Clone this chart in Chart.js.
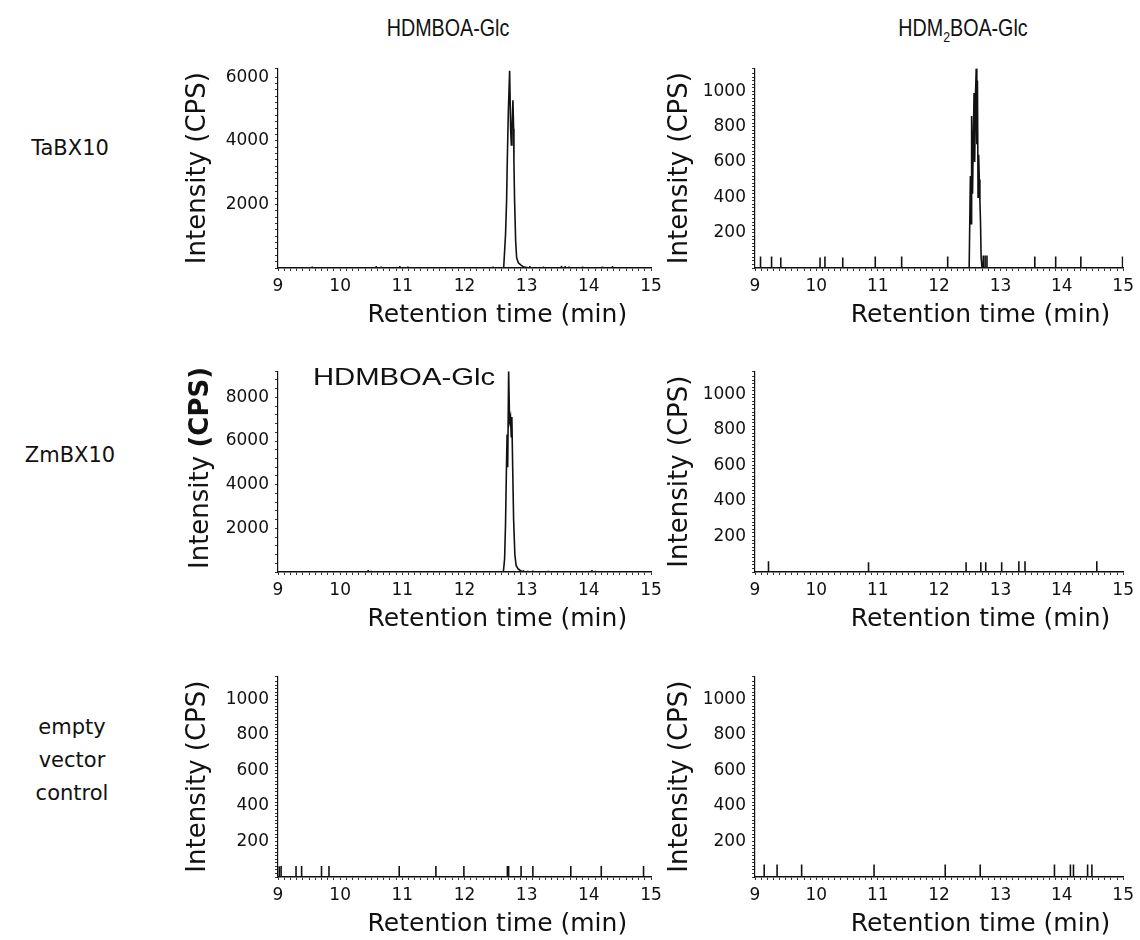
<!DOCTYPE html>
<html>
<head>
<meta charset="utf-8">
<script src="https://cdn.jsdelivr.net/npm/chart.js@4.4.1/dist/chart.umd.min.js"></script>
<style>
  body { margin: 0; background: #fff; width: 1140px; height: 940px; position: relative; overflow: hidden; font-family: "DejaVu Sans", sans-serif; color: #111; }
  .box { position: absolute; }
  .lbl { position: absolute; white-space: nowrap; transform: translate(-50%, -50%); }
  .row { font-size: 21px; text-align: center; line-height: 33px; }
  .col { font-family: "Liberation Sans", Arial, sans-serif; font-size: 24px; transform: translate(-50%, -50%) scaleX(0.82); }
</style>
</head>
<body>
<div class="lbl col" style="left:448px;top:28px">HDMBOA-Glc</div>
<div class="lbl col" style="left:963px;top:28px">HDM<span style="font-size:15px;position:relative;top:6px">2</span>BOA-Glc</div>

<div class="lbl row" style="left:70px;top:148px">TaBX10</div>
<div class="lbl row" style="left:70px;top:455px">ZmBX10</div>
<div class="lbl row" style="left:72px;top:760px">empty<br>vector<br>control</div>

<div class="box" style="left:180px;top:52px;width:491px;height:280px"><canvas id="taHdmboa"></canvas></div>
<div class="box" style="left:657px;top:52px;width:482px;height:280px"><canvas id="taHdm2boa"></canvas></div>
<div class="box" style="left:180px;top:355px;width:491px;height:281px"><canvas id="zmHdmboa"></canvas></div>
<div class="box" style="left:657px;top:355px;width:482px;height:281px"><canvas id="zmHdm2boa"></canvas></div>
<div class="box" style="left:180px;top:660px;width:491px;height:281px"><canvas id="evHdmboa"></canvas></div>
<div class="box" style="left:657px;top:660px;width:482px;height:281px"><canvas id="evHdm2boa"></canvas></div>

<div class="lbl" style="left:199px;top:468px;font-size:26px;transform:translate(-50%,-50%) rotate(-90deg)">Intensity <b>(CPS)</b></div>
<div class="lbl" style="left:404px;top:377px;font-family:'Liberation Sans',Arial,sans-serif;font-size:24px;transform:translate(-50%,-50%) scaleX(1.22)">HDMBOA-Glc</div>

<script>
// axis ranges and tick labels
const timeMin = 9;
const timeMax = 15;
const timeLabels = [9, 10, 11, 12, 13, 14, 15];
const bigLabels6k = [2000, 4000, 6000];
const bigLabels8k = [2000, 4000, 6000, 8000];
const smallLabels = [200, 400, 600, 800, 1000];

// TaBX10 - HDMBOA-Glc
const taHdmboaPeakTimes = [12.63, 12.66, 12.677, 12.688, 12.705, 12.726, 12.742, 12.753, 12.763, 12.779, 12.79, 12.795, 12.806, 12.823, 12.839, 12.866, 12.903, 12.956];
const taHdmboaPeakValues = [0, 1050, 2100, 3340, 4900, 6200, 4380, 3870, 4380, 5270, 4380, 3340, 2100, 840, 320, 165, 100, 30];
const taHdmboaNoiseTimes = [9.55, 10.58, 10.66, 10.96, 11.09, 12.46, 13.05, 13.27, 13.56, 13.62, 13.68, 13.9, 14.22, 14.38];
const taHdmboaNoiseValues = [50, 60, 50, 60, 50, 50, 60, 50, 70, 60, 50, 50, 50, 60];

// TaBX10 - HDM2BOA-Glc
const taHdm2boaPeakTimes = [12.49, 12.51, 12.52, 12.53, 12.545, 12.56, 12.57, 12.58, 12.595, 12.605, 12.615, 12.625, 12.635, 12.645, 12.655, 12.665, 12.675, 12.685, 12.7];
const taHdm2boaPeakValues = [0, 520, 250, 860, 420, 780, 990, 600, 1000, 1128, 700, 1060, 400, 640, 500, 380, 260, 60, 0];
const taHdm2boaSpikeTimes = [9.09, 9.27, 9.42, 10.06, 10.14, 10.43, 10.96, 11.39, 12.14, 12.72, 12.75, 12.78, 13.56, 13.9, 14.31, 14.99];
const taHdm2boaSpikeValues = [65, 65, 60, 60, 65, 60, 65, 65, 65, 70, 70, 70, 65, 65, 65, 65];

// ZmBX10 - HDMBOA-Glc
const zmHdmboaPeakTimes = [12.625, 12.645, 12.66, 12.675, 12.685, 12.695, 12.71, 12.725, 12.74, 12.752, 12.762, 12.775, 12.79, 12.81, 12.83, 12.86, 12.9];
const zmHdmboaPeakValues = [0, 600, 2200, 4800, 6300, 4800, 9200, 6900, 7100, 6200, 7100, 4800, 2400, 800, 300, 150, 60];
const zmHdmboaNoiseTimes = [9.25, 9.4, 10.45, 10.5, 12.95, 13.02, 13.1, 13.2, 13.35, 13.8, 14.05, 14.1];
const zmHdmboaNoiseValues = [40, 40, 90, 60, 80, 60, 70, 50, 60, 50, 90, 60];

// ZmBX10 - HDM2BOA-Glc
const zmHdm2boaSpikeTimes = [9.22, 10.85, 12.44, 12.68, 12.76, 13.02, 13.3, 13.4, 14.57];
const zmHdm2boaSpikeValues = [60, 55, 55, 55, 55, 55, 60, 60, 60];

// empty vector control
const evHdmboaSpikeTimes = [9.02, 9.05, 9.29, 9.38, 9.7, 9.82, 10.95, 11.54, 11.99, 12.69, 12.71, 12.91, 13.1, 13.71, 14.2, 14.88];
const evHdmboaSpikeValues = [60, 62, 62, 62, 62, 62, 62, 62, 62, 62, 62, 62, 62, 62, 62, 62];
const evHdm2boaSpikeTimes = [9.15, 9.36, 9.76, 10.94, 12.1, 12.67, 13.88, 14.14, 14.19, 14.42, 14.49];
const evHdm2boaSpikeValues = [70, 70, 70, 70, 70, 70, 70, 70, 70, 70, 70];

Chart.defaults.font.family = "'DejaVu Sans', sans-serif";
Chart.defaults.color = "#111";

// baseline + single-scan spikes + peak profile, as {x, y}
function buildTrace(peakTimes, peakValues, spikeTimes, spikeValues) {
  let pts = [{ x: timeMin, y: 0 }];
  spikeTimes.forEach(function (t, i) {
    pts.push({ x: t, y: 0 }, { x: t, y: spikeValues[i] }, { x: t, y: 0 });
  });
  peakTimes.forEach(function (t, i) {
    pts.push({ x: t, y: peakValues[i] });
  });
  pts.push({ x: timeMax, y: 0 });
  pts.sort(function (a, b) {
    return a.x - b.x;
  });
  return pts;
}

function makeChart(id, points, yMax, yStep, yLabels, opts) {
  const config = {
    type: "line",
    data: {
      datasets: [
        {
          data: points,
          borderColor: "#111",
          borderWidth: 1.6,
          pointRadius: 0,
          tension: 0,
        },
      ],
    },
    options: {
      responsive: true,
      maintainAspectRatio: false,
      animation: false,
      layout: { padding: { top: 14, right: opts.right, left: 0, bottom: 0 } },
      plugins: { legend: { display: false }, tooltip: { enabled: false } },
      scales: {
        x: {
          type: "linear",
          min: timeMin,
          max: timeMax,
          afterFit: function (s) {
            s.height = 64;
          },
          border: { color: "#111", width: 1.6 },
          grid: { drawOnChartArea: false, tickLength: 3, color: "#333" },
          ticks: {
            stepSize: 0.1,
            autoSkip: false,
            maxRotation: 0,
            padding: 5,
            font: { size: 17 },
            callback: function (v) {
              let r = Math.round(v * 10) / 10;
              return timeLabels.includes(r) ? String(r) : "";
            },
          },
          title: {
            display: true,
            text: "Retention time (min)" + opts.tail,
            align: "end",
            font: { size: 25 },
            padding: { top: 0, bottom: 2 },
          },
        },
        y: {
          min: 0,
          max: yMax,
          afterFit: function (s) {
            s.width = 98;
          },
          border: { color: "#111", width: 1.2 },
          grid: { drawOnChartArea: false, tickLength: 3, color: "#333" },
          ticks: {
            stepSize: yStep,
            autoSkip: false,
            padding: 6,
            font: { size: 17 },
            callback: function (v) {
              return yLabels.includes(v) ? String(v) : "";
            },
          },
          title: {
            display: opts.yTitle,
            text: "Intensity (CPS)",
            font: { size: 26 },
            padding: { top: opts.titlePad, bottom: 0 },
          },
        },
      },
    },
  };
  return new Chart(document.getElementById(id), config);
}

const leftCol = { right: 20, tail: "   ", titlePad: 3, yTitle: true };
const rightCol = { right: 12, tail: " \u2009", titlePad: 8, yTitle: true };

makeChart("taHdmboa", buildTrace(taHdmboaPeakTimes, taHdmboaPeakValues, taHdmboaNoiseTimes, taHdmboaNoiseValues), 6280, 200, bigLabels6k, leftCol);
makeChart("taHdm2boa", buildTrace(taHdm2boaPeakTimes, taHdm2boaPeakValues, taHdm2boaSpikeTimes, taHdm2boaSpikeValues), 1130, 20, smallLabels, rightCol);
makeChart("zmHdmboa", buildTrace(zmHdmboaPeakTimes, zmHdmboaPeakValues, zmHdmboaNoiseTimes, zmHdmboaNoiseValues), 9200, 400, bigLabels8k, { right: 20, tail: "   ", titlePad: 3, yTitle: false });
makeChart("zmHdm2boa", buildTrace([], [], zmHdm2boaSpikeTimes, zmHdm2boaSpikeValues), 1130, 20, smallLabels, rightCol);
makeChart("evHdmboa", buildTrace([], [], evHdmboaSpikeTimes, evHdmboaSpikeValues), 1130, 20, smallLabels, leftCol);
makeChart("evHdm2boa", buildTrace([], [], evHdm2boaSpikeTimes, evHdm2boaSpikeValues), 1130, 20, smallLabels, rightCol);
</script>
</body>
</html>
